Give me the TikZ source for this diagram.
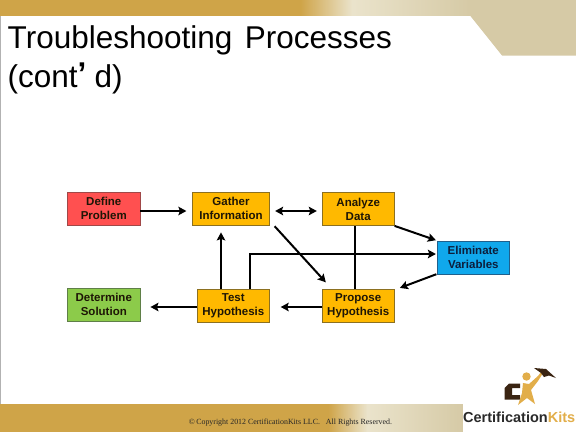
\documentclass[tikz,border=0pt]{standalone}
\usepackage{fontspec}
\setmainfont{Liberation Sans}
\newfontfamily\serifcopy{Liberation Serif}
\usetikzlibrary{arrows.meta,calc}
\definecolor{gold}{HTML}{CFA448}
\definecolor{beige}{HTML}{D6CAA6}
\definecolor{palebeige}{HTML}{EAE3CB}
\definecolor{amber}{HTML}{FFB900}
\definecolor{amberedge}{HTML}{8C7020}
\definecolor{redbox}{HTML}{FF5050}
\definecolor{rededge}{HTML}{A04848}
\definecolor{greenbox}{HTML}{8CCB4A}
\definecolor{greenedge}{HTML}{5F7F48}
\definecolor{bluebox}{HTML}{10A8EC}
\definecolor{blueedge}{HTML}{20608C}
\definecolor{navytext}{HTML}{0C1E3C}
\definecolor{darktext}{HTML}{1E1606}
\definecolor{logobrown}{HTML}{3A2412}
\definecolor{logogold}{HTML}{E2AE4A}
\definecolor{logotext}{HTML}{2A2A2A}
\tikzset{
  procbox/.style={draw=amberedge,fill=amber,line width=0.8pt,inner sep=0pt,minimum width=72pt,minimum height=33pt,align=center,font=\fontsize{11.5}{14}\selectfont\bfseries,text=darktext},
  link/.style={line width=2pt,draw=black},
  flow/.style={link,-{Stealth[length=8pt,width=8.5pt,inset=1.5pt]}},
  bothflow/.style={link,{Stealth[length=8pt,width=8.5pt,inset=1.5pt]}-{Stealth[length=8pt,width=8.5pt,inset=1.5pt]}},
}
\begin{document}
\begin{tikzpicture}[x=1pt,y=-1pt]
\useasboundingbox (0,0) rectangle (576,432);
\fill[white] (0,0) rectangle (576,432);
% left edge
\fill[black!30] (0,0) rectangle (1.2,404);
% top band
\fill[gold] (0,0) rectangle (300,16);
\foreach \i in {0,...,52}{
  \pgfmathtruncatemacro{\p}{100*\i/52}
  \fill[palebeige!\p!gold] (300+\i,0) rectangle (301.5+\i,16);
}
\foreach \i in {0,...,116}{
  \pgfmathtruncatemacro{\p}{100*\i/116}
  \fill[beige!\p!palebeige] (353+\i,0) rectangle (354.5+\i,16);
}
\fill[beige] (470,0) rectangle (576,16);
\fill[beige] (470,15.5) -- (576,15.5) -- (576,55.5) -- (502,55.5) -- cycle;
% bottom band
\fill[gold] (0,403.5) rectangle (328,432);
\foreach \i in {0,...,39}{
  \pgfmathtruncatemacro{\p}{100*\i/39}
  \fill[palebeige!\p!gold] (328+\i,403.5) rectangle (329.5+\i,432);
}
\foreach \i in {0,...,94}{
  \pgfmathtruncatemacro{\p}{100*\i/94}
  \fill[beige!\p!palebeige] (368+\i,403.5) rectangle (369+\i,432);
}
% title
\node[anchor=base west,inner sep=0pt,font=\fontsize{31.5}{36}\selectfont,text=black] (title1) at (7.5,48) {Troubleshooting\hspace{0.12em} Processes};
\node[anchor=base west,inner sep=0pt,font=\fontsize{31.5}{36}\selectfont,text=black] (title2) at (7.5,87) {(cont\raisebox{0.08em}{\bfseries’}\hspace{-0.02em} d)};
% boxes
\node[procbox,draw=rededge,fill=redbox,minimum width=72.5pt] (define) at (103.8,208.8) {Define\\Problem};
\node[procbox,minimum width=77.4pt] (gather) at (231,208.8) {Gather\\Information};
\node[procbox] (analyze) at (358.2,209.2) {Analyze\\Data};
\node[procbox,draw=blueedge,fill=bluebox,text=navytext] (elim) at (473.3,257.5) {Eliminate\\Variables};
\node[procbox] (propose) at (358.2,305.5) {Propose\\Hypothesis};
\node[procbox] (test) at (233.3,305.5) {Test\\Hypothesis};
\node[procbox,draw=greenedge,fill=greenbox,minimum width=72.5pt] (determine) at (103.8,304.8) {Determine\\Solution};
% connectors
\draw[flow,shorten >=5.5pt] ($(define.east)+(0,2.2)$) -- ($(gather.west)+(0,2.2)$);
\draw[bothflow,shorten <=5pt,shorten >=5pt] ($(gather.east)+(0,2.2)$) -- ($(analyze.west)+(0,1.8)$);
\draw[flow] ($(gather.south east)+(4.5,0.5)$) -- ($(propose.north west)+(4,-6.3)$);
\draw[flow] ($(analyze.south east)+(0,-0.2)$) -- ($(elim.north west)+(-1,-0.4)$);
\draw[flow] ($(elim.south west)+(-0.5,-0.2)$) -- ($(propose.north east)+(5.3,-0.7)$);
\draw[flow,shorten >=11pt] ($(propose.west)+(0,1.5)$) -- ($(test.east)+(0,1.5)$);
\draw[flow,shorten >=10pt] ($(test.west)+(0,1.5)$) -- ($(determine.east)+(0,2.2)$);
\draw[flow,shorten >=6.7pt] ($(test.north)+(-12.3,0)$) -- ($(gather.south)+(-10,0)$);
\draw[flow,shorten >=1pt] ($(test.north)+(16.7,0)$) |- ($(elim.west)+(0,-3.5)$);
\draw[link] ($(analyze.south)+(-3.2,0)$) -- ($(propose.north)+(-3.2,0)$);
% footer
\node[anchor=base,inner sep=0pt,font=\serifcopy\fontsize{7.9}{9}\selectfont,text=black!85] (copy) at (290.5,424.5) {©\,Copyright 2012 CertificationKits LLC.\ \ \ All Rights Reserved.};
% logo
\fill[logobrown] (520,383.5) -- (509,383.5) -- (504.5,388) -- (504.5,399.5) -- (520,399.5) -- (520,395) -- (512,395) -- (512,388) -- (520,388) -- cycle;
\fill[logogold] (526.5,376.5) circle (4.2);
\fill[logogold] (523,383) -- (529,384) -- (538,376) -- (541,372) -- (543,373) -- (538,381) -- (531,390) -- (535,404) -- (527,398) -- (518,405) -- (522,393) -- cycle;
\fill[logobrown] (534,368) -- (546,369) -- (556,378) -- (549,375.5) -- (544,377) -- (541,373) -- cycle;
\node[anchor=base west,inner sep=0pt,font=\fontsize{14.5}{18}\selectfont\bfseries,text=logotext] (logo) at (463,422.5) {Certification\textcolor{logogold}{Kits}};
\end{tikzpicture}
\end{document}
